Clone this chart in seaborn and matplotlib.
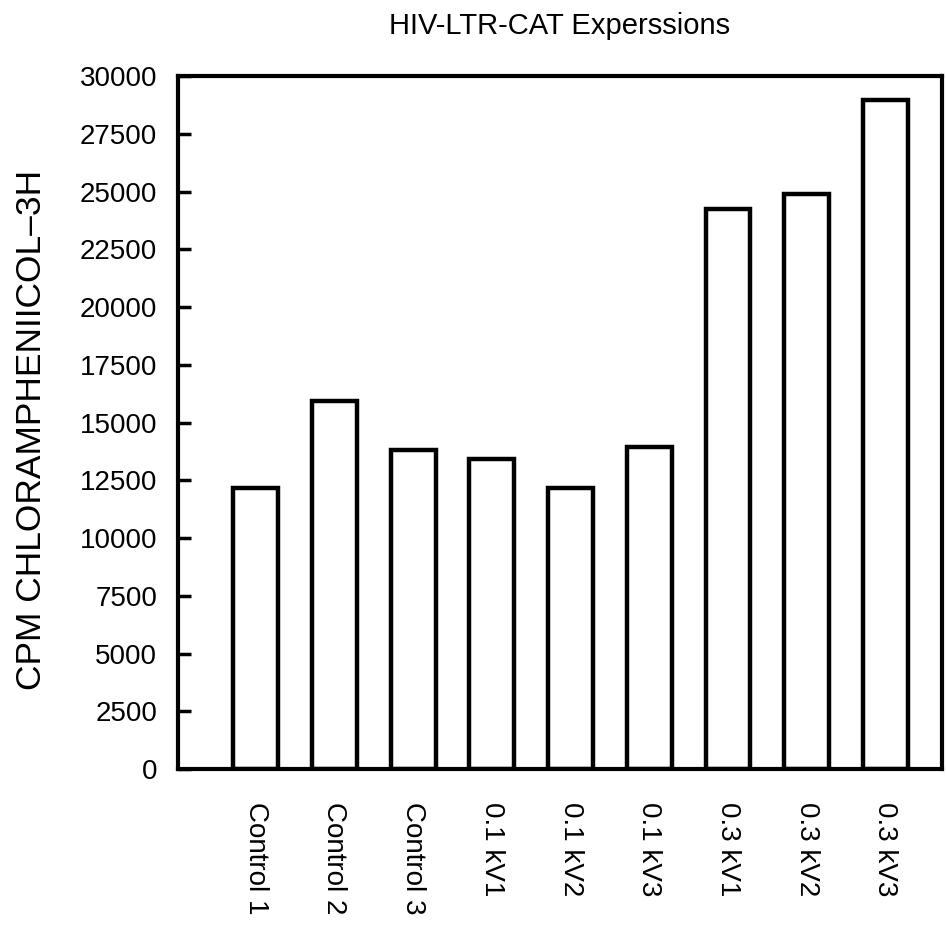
import pandas as pd
import matplotlib
matplotlib.use("Agg")
import matplotlib.pyplot as plt
import seaborn as sns

# Visual setup
sns.set_theme(style="ticks")
plt.rcParams["font.family"] = ["Liberation Sans", "DejaVu Sans"]

# Data
amostras = ["Control 1", "Control 2", "Control 3",
            "0.1 kV1", "0.1 kV2", "0.1 kV3",
            "0.3 kV1", "0.3 kV2", "0.3 kV3"]
cpm = [12150, 15950, 13800, 13400, 12150, 13950, 24250, 24900, 28950]
y_ticks = list(range(0, 30001, 2500))

df = pd.DataFrame({"amostra": amostras, "cpm": cpm})

fig = plt.figure(figsize=(9.46, 9.27), dpi=100)
ax = fig.add_axes([0.188, 0.1704, 0.8078, 0.7476])

sns.barplot(
    data=df, x="amostra", y="cpm", ax=ax,
    color="white", saturation=1, edgecolor="black",
    linewidth=3.2, width=0.57,
)

ax.set_xlim(-0.99, 8.72)
ax.set_ylim(0, 30000)
ax.set_yticks(y_ticks)
ax.set_yticklabels([str(v) for v in y_ticks], fontsize=20, color="black")
ax.set_xticks(range(len(amostras)))
ax.set_xticklabels(amostras, rotation=270, ha="center", va="top",
                   fontsize=20, color="black")

ax.tick_params(axis="y", direction="in", length=9, width=2.5, pad=15,
               color="black")
ax.tick_params(axis="x", length=0, pad=24)

for s in ax.spines.values():
    s.set_visible(True)
    s.set_linewidth(3)
    s.set_color("black")

ax.set_xlabel("")
ax.set_ylabel("CPM CHLORAMPHENIICOL\u20133H", fontsize=25.5, color="black")
ax.yaxis.set_label_coords(-0.17, 0.49)
ax.set_title("HIV-LTR-CAT Experssions", fontsize=21, pad=30, color="black")

fig.savefig("out.png", dpi=100)
